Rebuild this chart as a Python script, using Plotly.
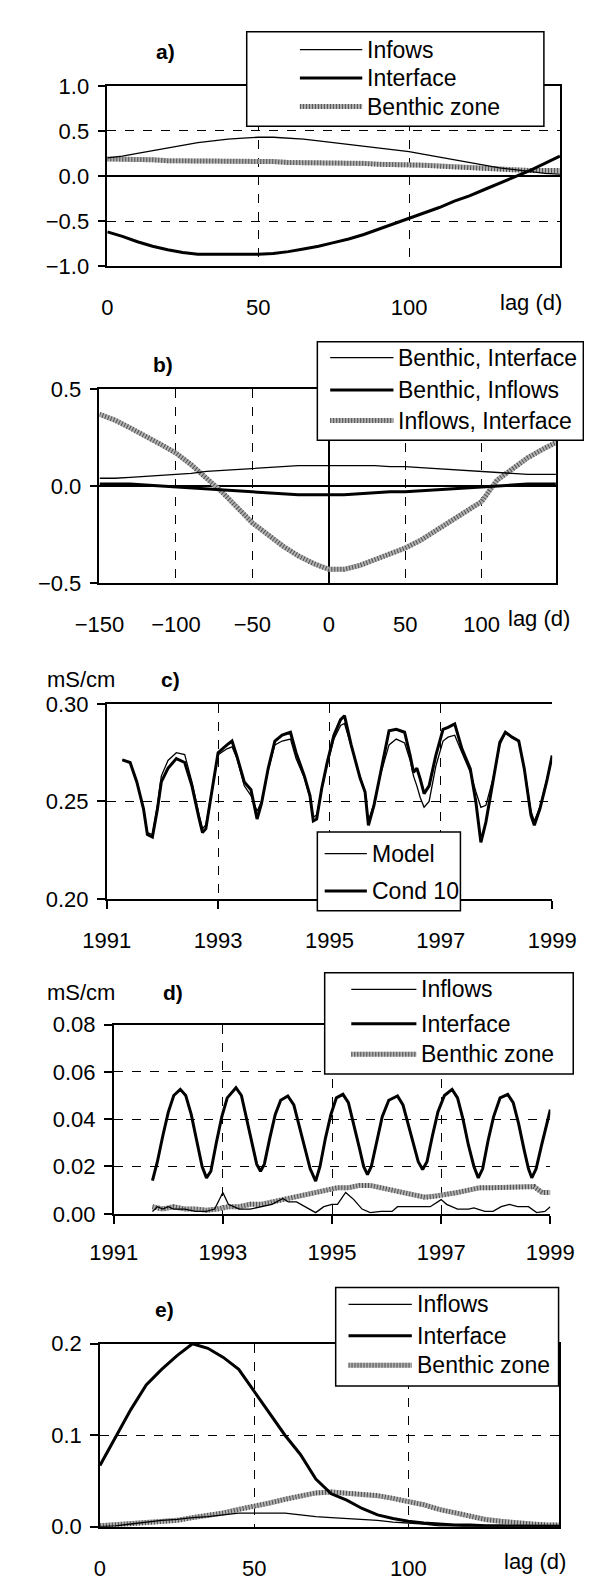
import plotly.graph_objects as go

W, H = 592, 1579

# ---------------- data ----------------
# panel a: cross-correlation vs lag
a_lag = list(range(0, 151, 5))
a_infows = [0.20, 0.22, 0.25, 0.28, 0.31, 0.34, 0.37, 0.39, 0.41, 0.42, 0.43, 0.43, 0.42, 0.41, 0.39, 0.37,
            0.35, 0.33, 0.31, 0.29, 0.27, 0.24, 0.21, 0.18, 0.15, 0.12, 0.09, 0.07, 0.05, 0.03, 0.02]
a_interface = [-0.62, -0.67, -0.73, -0.78, -0.82, -0.85, -0.87, -0.87, -0.87, -0.87, -0.87, -0.86, -0.84,
               -0.81, -0.78, -0.74, -0.70, -0.65, -0.59, -0.53, -0.47, -0.41, -0.35, -0.28, -0.22, -0.15,
               -0.08, -0.01, 0.06, 0.14, 0.22]
a_benthic = [0.19, 0.19, 0.19, 0.18, 0.17, 0.17, 0.17, 0.17, 0.17, 0.17, 0.17, 0.16, 0.15, 0.15, 0.15, 0.15,
             0.15, 0.14, 0.13, 0.13, 0.13, 0.12, 0.11, 0.10, 0.10, 0.09, 0.08, 0.07, 0.06, 0.06, 0.06]

# panel b
b_lag = list(range(-150, 151, 10))
b_benth_inter = [0.04, 0.04, 0.045, 0.05, 0.055, 0.06, 0.065, 0.075, 0.08, 0.085, 0.09, 0.095, 0.10, 0.105,
                 0.105, 0.105, 0.105, 0.105, 0.105, 0.10, 0.10, 0.095, 0.09, 0.085, 0.08, 0.075, 0.07, 0.065,
                 0.06, 0.06, 0.06]
b_benth_infl = [0.01, 0.01, 0.01, 0.005, 0.0, -0.005, -0.01, -0.015, -0.02, -0.025, -0.03, -0.035, -0.04,
                -0.045, -0.045, -0.045, -0.045, -0.04, -0.035, -0.03, -0.03, -0.025, -0.02, -0.015, -0.01,
                -0.005, 0.0, 0.005, 0.01, 0.01, 0.01]
b_infl_inter = [0.37, 0.34, 0.30, 0.26, 0.215, 0.17, 0.11, 0.04, -0.03, -0.11, -0.19, -0.25, -0.31, -0.36,
                -0.40, -0.43, -0.43, -0.41, -0.38, -0.35, -0.32, -0.28, -0.23, -0.18, -0.13, -0.08, 0.03,
                0.09, 0.145, 0.19, 0.23]

# panel c: conductivity time series
c_year = [1991.28, 1991.42, 1991.54, 1991.66, 1991.73, 1991.82, 1991.91, 1991.98, 1992.10, 1992.25, 1992.40,
          1992.53, 1992.66, 1992.72, 1992.78, 1992.88, 1993.00, 1993.16, 1993.25, 1993.34, 1993.47, 1993.59,
          1993.70, 1993.78, 1993.90, 1994.02, 1994.15, 1994.30, 1994.40, 1994.55, 1994.65, 1994.71, 1994.77,
          1994.86, 1994.96, 1995.08, 1995.20, 1995.27, 1995.39, 1995.55, 1995.64, 1995.70, 1995.80, 1995.92,
          1996.07, 1996.20, 1996.35, 1996.45, 1996.51, 1996.57, 1996.63, 1996.70, 1996.79, 1996.91, 1997.04,
          1997.13, 1997.25, 1997.38, 1997.53, 1997.63, 1997.72, 1997.81, 1997.94, 1998.06, 1998.16, 1998.28,
          1998.40, 1998.50, 1998.62, 1998.68, 1998.78, 1998.90, 1999.00]
c_cond10 = [0.2713, 0.270, 0.260, 0.2462, 0.233, 0.2317, 0.246, 0.260, 0.267, 0.272, 0.270, 0.258, 0.241,
            0.234, 0.236, 0.253, 0.275, 0.279, 0.281, 0.273, 0.260, 0.256, 0.241, 0.249, 0.267, 0.281, 0.284,
            0.2855, 0.275, 0.263, 0.253, 0.240, 0.241, 0.2565, 0.270, 0.284, 0.292, 0.294, 0.279, 0.262,
            0.2548, 0.2377, 0.248, 0.265, 0.2863, 0.287, 0.2855, 0.2735, 0.265, 0.267, 0.2616, 0.254, 0.258,
            0.2735, 0.287, 0.288, 0.2898, 0.277, 0.2667, 0.2497, 0.229, 0.2394, 0.2616, 0.2804, 0.2855, 0.283,
            0.281, 0.2667, 0.2428, 0.2377, 0.2462, 0.260, 0.2735]
c_model = [0.2713, 0.270, 0.260, 0.2462, 0.234, 0.233, 0.248, 0.263, 0.271, 0.275, 0.274, 0.260, 0.243,
           0.236, 0.238, 0.254, 0.274, 0.277, 0.278, 0.272, 0.258, 0.253, 0.245, 0.250, 0.266, 0.279, 0.281,
           0.282, 0.272, 0.262, 0.252, 0.242, 0.243, 0.256, 0.269, 0.282, 0.289, 0.290, 0.278, 0.262,
           0.254, 0.240, 0.249, 0.264, 0.279, 0.282, 0.280, 0.271, 0.263, 0.258, 0.252, 0.247, 0.250,
           0.268, 0.281, 0.283, 0.284, 0.275, 0.265, 0.255, 0.247, 0.248, 0.262, 0.279, 0.285, 0.283,
           0.281, 0.267, 0.245, 0.240, 0.247, 0.261, 0.2735]

# panel d: contributions
d_year_int = [1991.71, 1991.80, 1991.90, 1992.00, 1992.10, 1992.22, 1992.32, 1992.42, 1992.52, 1992.62,
              1992.70, 1992.78, 1992.88, 1992.98, 1993.08, 1993.24, 1993.34, 1993.44, 1993.54, 1993.62,
              1993.69, 1993.76, 1993.86, 1993.96, 1994.06, 1994.19, 1994.30, 1994.40, 1994.50, 1994.60,
              1994.70, 1994.78, 1994.88, 1994.98, 1995.08, 1995.20, 1995.30, 1995.40, 1995.50, 1995.58,
              1995.65, 1995.72, 1995.82, 1995.92, 1996.04, 1996.20, 1996.30, 1996.40, 1996.50, 1996.58,
              1996.66, 1996.74, 1996.84, 1996.94, 1997.06, 1997.20, 1997.30, 1997.40, 1997.50, 1997.60,
              1997.68, 1997.76, 1997.86, 1997.96, 1998.08, 1998.22, 1998.32, 1998.42, 1998.52, 1998.60,
              1998.66, 1998.74, 1998.84, 1998.94, 1999.00]
d_interface = [0.014, 0.022, 0.033, 0.043, 0.050, 0.0526, 0.050, 0.042, 0.031, 0.020,
               0.0152, 0.018, 0.030, 0.041, 0.049, 0.0533, 0.050, 0.040, 0.029, 0.021,
               0.018, 0.021, 0.032, 0.042, 0.048, 0.0498, 0.046, 0.037, 0.027, 0.019,
               0.0138, 0.020, 0.032, 0.042, 0.049, 0.0505, 0.047, 0.038, 0.028, 0.020,
               0.0166, 0.020, 0.031, 0.041, 0.048, 0.0498, 0.046, 0.037, 0.028, 0.022,
               0.0187, 0.022, 0.033, 0.043, 0.050, 0.0526, 0.049, 0.040, 0.029, 0.020,
               0.0152, 0.019, 0.031, 0.041, 0.049, 0.0505, 0.047, 0.038, 0.027, 0.019,
               0.0152, 0.019, 0.029, 0.039, 0.044]
d_year_ben = [1991.71, 1991.9, 1992.1, 1992.3, 1992.5, 1992.7, 1992.9, 1993.1, 1993.3, 1993.5, 1993.7,
              1993.9, 1994.1, 1994.3, 1994.5, 1994.7, 1994.9, 1995.1, 1995.3, 1995.5, 1995.7, 1995.9,
              1996.1, 1996.3, 1996.5, 1996.7, 1996.9, 1997.1, 1997.3, 1997.5, 1997.7, 1997.9, 1998.1,
              1998.3, 1998.5, 1998.7, 1998.85, 1999.0]
d_benthic = [0.003, 0.002, 0.003, 0.002, 0.002, 0.0015, 0.002, 0.003, 0.003, 0.004, 0.004,
             0.005, 0.006, 0.007, 0.008, 0.009, 0.010, 0.011, 0.011, 0.012, 0.012, 0.011,
             0.010, 0.009, 0.008, 0.007, 0.0075, 0.008, 0.009, 0.010, 0.011, 0.011, 0.011,
             0.011, 0.011, 0.0115, 0.009, 0.009]
d_year_inf = [1991.71, 1991.8, 1991.9, 1992.0, 1992.1, 1992.3, 1992.5, 1992.7, 1992.85, 1993.0, 1993.1,
              1993.3, 1993.5, 1993.7, 1993.9, 1994.1, 1994.2, 1994.35, 1994.5, 1994.7, 1994.85, 1995.0,
              1995.1, 1995.25, 1995.4, 1995.55, 1995.7, 1995.9, 1996.1, 1996.2, 1996.4, 1996.6, 1996.8,
              1997.0, 1997.1, 1997.3, 1997.5, 1997.6, 1997.8, 1997.95, 1998.1, 1998.25, 1998.4, 1998.6,
              1998.75, 1998.9, 1999.0]
d_inflows = [0.001, 0.003, 0.002, 0.003, 0.002, 0.002, 0.001, 0.001, 0.002, 0.009, 0.004,
             0.002, 0.002, 0.003, 0.004, 0.0065, 0.005, 0.005, 0.003, 0.0005, 0.003, 0.004,
             0.004, 0.009, 0.006, 0.002, 0.0005, 0.001, 0.001, 0.003, 0.003, 0.003, 0.003,
             0.006, 0.004, 0.002, 0.002, 0.0025, 0.001, 0.001, 0.003, 0.004, 0.003, 0.003,
             0.0005, 0.001, 0.003]

# panel e: impulse responses
e_lag = list(range(0, 151, 5))
e_interface = [0.067, 0.098, 0.128, 0.155, 0.172, 0.187, 0.200, 0.195, 0.185, 0.172, 0.148, 0.124, 0.100,
               0.079, 0.052, 0.036, 0.029, 0.020, 0.013, 0.009, 0.006, 0.004, 0.003, 0.002, 0.002, 0.001,
               0.001, 0.001, 0.0005, 0.0005, 0.0005]
e_benthic = [0.001, 0.002, 0.003, 0.004, 0.005, 0.007, 0.010, 0.012, 0.015, 0.019, 0.022, 0.026, 0.030,
             0.034, 0.037, 0.038, 0.037, 0.036, 0.034, 0.031, 0.028, 0.024, 0.019, 0.015, 0.011, 0.008,
             0.006, 0.004, 0.003, 0.002, 0.002]
e_inflows = [0.0, 0.001, 0.003, 0.005, 0.007, 0.008, 0.010, 0.011, 0.013, 0.015, 0.015, 0.015, 0.015,
             0.013, 0.011, 0.010, 0.009, 0.008, 0.007, 0.005, 0.004, 0.003, 0.001, 0.001, 0.0, 0.0, 0.0,
             0.0, 0.0, 0.0, 0.0]

# ---------------- styling helpers ----------------
FONT = "Liberation Sans, Arial, Helvetica, sans-serif"
THIN = dict(color="black", width=1.3)
THICK = dict(color="black", width=3)
HATCH_BASE = dict(color="#b0b0b0", width=5)
HATCH_TOP = dict(color="#505050", width=5, dash="1px,2px")


def px(x):
    return x / W


def py(y):
    return 1 - y / H


fig = go.Figure()


def add_series(x, y, style, ax):
    xa, ya = ax
    if style == "thin":
        fig.add_trace(go.Scatter(x=x, y=y, mode="lines", line=THIN, xaxis=xa, yaxis=ya, showlegend=False))
    elif style == "thick":
        fig.add_trace(go.Scatter(x=x, y=y, mode="lines", line=THICK, xaxis=xa, yaxis=ya, showlegend=False))
    else:
        fig.add_trace(go.Scatter(x=x, y=y, mode="lines", line=HATCH_BASE, xaxis=xa, yaxis=ya, showlegend=False))
        fig.add_trace(go.Scatter(x=x, y=y, mode="lines", line=HATCH_TOP, xaxis=xa, yaxis=ya, showlegend=False))


# panel a
add_series(a_lag, a_benthic, "hatch", ("x", "y"))
add_series(a_lag, a_infows, "thin", ("x", "y"))
add_series(a_lag, a_interface, "thick", ("x", "y"))
# panel b
add_series(b_lag, b_infl_inter, "hatch", ("x2", "y2"))
add_series(b_lag, b_benth_inter, "thin", ("x2", "y2"))
add_series(b_lag, b_benth_infl, "thick", ("x2", "y2"))
# panel c
add_series(c_year, c_model, "thin", ("x3", "y3"))
add_series(c_year, c_cond10, "thick", ("x3", "y3"))
# panel d
add_series(d_year_ben, d_benthic, "hatch", ("x4", "y4"))
add_series(d_year_inf, d_inflows, "thin", ("x4", "y4"))
add_series(d_year_int, d_interface, "thick", ("x4", "y4"))
# panel e
add_series(e_lag, e_benthic, "hatch", ("x5", "y5"))
add_series(e_lag, e_inflows, "thin", ("x5", "y5"))
add_series(e_lag, e_interface, "thick", ("x5", "y5"))


def xaxis(dom, anchor, rng, tickvals, ticks, zeroline=False, mirror=True, standoff=21):
    return dict(domain=[px(dom[0]), px(dom[1])], anchor=anchor, range=rng, tickvals=tickvals,
                showline=True, linecolor="black", linewidth=1.5, mirror=mirror,
                ticks=ticks, ticklen=8, tickwidth=1.5, tickcolor="black",
                showgrid=True, gridcolor="black", gridwidth=1.2, griddash="dash",
                zeroline=zeroline, zerolinecolor="black", zerolinewidth=1.5,
                tickfont=dict(size=22, family=FONT, color="black"), ticklabelstandoff=standoff)


def yaxis(dom, anchor, rng, tickvals, fmt, showgrid=True, zeroline=False, mirror=True):
    return dict(domain=[py(dom[1]), py(dom[0])], anchor=anchor, range=rng, tickvals=tickvals,
                tickformat=fmt, showline=True, linecolor="black", linewidth=1.5, mirror=mirror,
                ticks="outside", ticklen=8, tickwidth=1.5, tickcolor="black",
                showgrid=showgrid, gridcolor="black", gridwidth=1.2, griddash="dash",
                zeroline=zeroline, zerolinecolor="black", zerolinewidth=1.5,
                tickfont=dict(size=22, family=FONT, color="black"), ticklabelstandoff=4)


fig.update_layout(
    width=W, height=H, margin=dict(l=0, r=0, t=0, b=0),
    paper_bgcolor="white", plot_bgcolor="white",
    font=dict(family=FONT, size=22, color="black"),
    showlegend=False,
    xaxis=xaxis((81, 574.5), "y", [0, 150], [0, 50, 100], ""),
    yaxis=yaxis((67, 250), "x", [-1, 1], [-1, -0.5, 0, 0.5, 1], ".1f", zeroline=True),
    xaxis2=xaxis((72.5, 570), "y2", [-150, 148.5], [-150, -100, -50, 0, 50, 100], "", zeroline=True),
    yaxis2=yaxis((375, 572), "x2", [-0.5, 0.5], [-0.5, 0, 0.5], ".1f", showgrid=False, zeroline=True),
    xaxis3=xaxis((80.4, 566), "y3", [1991, 1999], [1991, 1993, 1995, 1997, 1999], "outside", standoff=13),
    yaxis3=yaxis((695, 893), "x3", [0.2, 0.3], [0.2, 0.25, 0.3], ".2f", mirror=False),
    xaxis4=xaxis((88, 564), "y4", [1991, 1999], [1991, 1993, 1995, 1997, 1999], "outside", standoff=10),
    yaxis4=yaxis((1020.7, 1213), "x4", [0, 0.08], [0, 0.02, 0.04, 0.06, 0.08], ".2f", mirror=False),
    xaxis5=xaxis((73, 574), "y5", [0, 149], [0, 50, 100], ""),
    yaxis5=yaxis((1345, 1531), "x5", [0, 0.2], [0, 0.1, 0.2], ".1f"),
)

shapes = []
annotations = []


def text(x, y, s, size=22, bold=False, xanchor="center"):
    annotations.append(dict(x=px(x), y=py(y), xref="paper", yref="paper", text=("<b>%s</b>" % s) if bold else s,
                            showarrow=False, xanchor=xanchor, yanchor="middle",
                            font=dict(size=size, family=FONT, color="black")))


def legend(box, sample, tx, rows):
    x0, y0, x1, y1 = box
    shapes.append(dict(type="rect", xref="paper", yref="paper", x0=px(x0), x1=px(x1), y0=py(y1), y1=py(y0),
                       line=dict(color="black", width=1.5), fillcolor="white", layer="above"))
    for (yy, label, style) in rows:
        if style == "hatch":
            lines = [HATCH_BASE, HATCH_TOP]
        elif style == "thick":
            lines = [THICK]
        else:
            lines = [THIN]
        for ln in lines:
            shapes.append(dict(type="line", xref="paper", yref="paper", x0=px(sample[0]), x1=px(sample[1]),
                               y0=py(yy), y1=py(yy), line=ln, layer="above"))
        text(tx, yy, label, size=23, xanchor="left")


legend((233, 12, 557, 108), (291, 359), 362,
       [(30, "Infows", "thin"), (59, "Interface", "thick"), (88, "Benthic zone", "hatch")])
legend((310, 327, 600, 427), (324, 393), 396,
       [(343, "Benthic, Interface", "thin"), (376, "Benthic, Inflows", "thick"),
        (407, "Inflows, Interface", "hatch")])
legend((310, 825, 466, 905), (318, 364), 367,
       [(847, "Model", "thin"), (885, "Cond 10", "thick")])
legend((318, 968, 589, 1071), (347, 418), 421,
       [(985, "Inflows", "thin"), (1020, "Interface", "thick"), (1051, "Benthic zone", "hatch")])
legend((330, 1288, 573, 1388), (344, 413), 417,
       [(1305, "Inflows", "thin"), (1337, "Interface", "thick"), (1367, "Benthic zone", "hatch")])

# panel letters and units
text(145, 32, "a)", size=21, bold=True)
text(142, 350, "b)", size=21, bold=True)
text(150, 670, "c)", size=21, bold=True)
text(153, 988, "d)", size=21, bold=True)
text(143, 1310, "e)", size=21, bold=True)
text(52, 670, "mS/cm", size=22)
text(52, 988, "mS/cm", size=22)
# axis titles "lag (d)"
text(543, 287, "lag (d)", size=22)
text(552, 608, "lag (d)", size=22)
text(547, 1566, "lag (d)", size=22)

fig.update_layout(shapes=shapes, annotations=annotations)
fig.write_html("out.html")
